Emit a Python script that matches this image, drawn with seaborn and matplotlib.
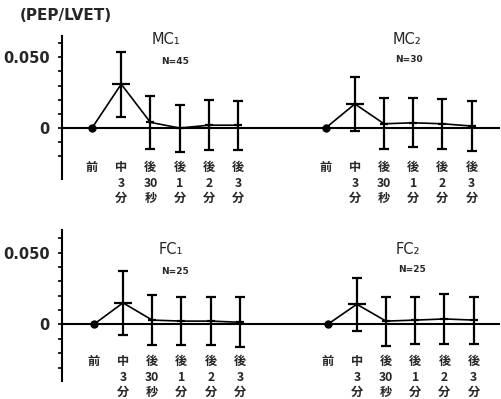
import matplotlib
matplotlib.use("Agg")
import matplotlib.pyplot as plt
import seaborn as sns
import pandas as pd
import numpy as np
from matplotlib.ticker import FixedLocator

sns.set_style("white")
plt.rcParams['font.family'] = ['DejaVu Sans']

# ---- data ----
time_labels = ["前", "中\n3\n分", "後\n30\n秒", "後\n1\n分", "後\n2\n分", "後\n3\n分"]
mc1_mean = [0.0, 0.031, 0.004, 0.0, 0.002, 0.002]
mc1_sd = [0.0, 0.023, 0.0186, 0.0166, 0.0176, 0.0174]
mc2_mean = [0.0, 0.017, 0.003, 0.0037, 0.003, 0.0014]
mc2_sd = [0.0, 0.0192, 0.018, 0.0172, 0.0177, 0.0178]
fc1_mean = [0.0, 0.015, 0.003, 0.0023, 0.0023, 0.0015]
fc1_sd = [0.0, 0.0221, 0.0176, 0.0167, 0.0167, 0.0175]
fc2_mean = [0.0, 0.014, 0.0023, 0.003, 0.0038, 0.003]
fc2_sd = [0.0, 0.0184, 0.0171, 0.0164, 0.0172, 0.0164]
group_titles = ["MC₁", "MC₂", "FC₁", "FC₂"]
group_n = ["N=45", "N=30", "N=25", "N=25"]
y_unit = "(PEP/LVET)"

left_pos = np.arange(6)
right_pos = np.arange(6) + 8

fig = plt.figure(figsize=(5.02, 3.99), dpi=100)
ax_top = fig.add_axes([62.5 / 502, (399 - 179) / 399, 437.5 / 502, 143 / 399])
ax_bot = fig.add_axes([62.5 / 502, (399 - 380.5) / 399, 437.5 / 502, 151 / 399])

cjk = ['Noto Sans CJK JP', 'DejaVu Sans']


def draw_group(ax, pos, mean, sd):
    df = pd.DataFrame({"x": pos, "y": mean})
    sns.lineplot(data=df, x="x", y="y", ax=ax, color="black", lw=1.2,
                 legend=False, zorder=3)
    ax.errorbar(pos[1:], mean[1:], yerr=sd[1:], fmt='none', ecolor='black',
                elinewidth=1.6, capsize=3.6, capthick=1.6, zorder=4)
    ax.plot(pos[1:2], mean[1:2], marker='_', ms=13, mew=1.6, color='black',
            ls='none', zorder=5)
    ax.plot(pos[2:], mean[2:], marker='_', ms=6, mew=1.6, color='black',
            ls='none', zorder=5)
    ax.plot(pos[:1], mean[:1], marker='o', ms=5, color='black', ls='none',
            zorder=5)


def style_axis(ax, ylim, xlim, minor_ticks, label_y):
    ax.set_xlim(*xlim)
    ax.set_ylim(*ylim)
    for s in ["top", "right", "bottom"]:
        ax.spines[s].set_visible(False)
    ax.spines["left"].set_linewidth(1.5)
    ax.spines["left"].set_color("black")
    ax.axhline(0, color='black', lw=1.5, zorder=2)
    ax.set_xticks([])
    ax.set_xlabel("")
    ax.set_ylabel("")
    ax.yaxis.set_major_locator(FixedLocator([0.0, 0.05]))
    ax.yaxis.set_minor_locator(FixedLocator(minor_ticks))
    ax.set_yticklabels(["0", "0.050"])
    ax.tick_params(axis='y', which='both', direction='out', length=3,
                   width=1.2, color='black', left=True, pad=6)
    for t in ax.get_yticklabels():
        t.set_fontsize(10.5)
        t.set_fontweight('bold')
    for i, p in enumerate(list(left_pos) + list(right_pos)):
        ax.text(p, label_y, time_labels[i % 6],
                ha='center', va='top', fontsize=8.8, fontweight='bold',
                family=cjk, linespacing=1.25, multialignment='center')


draw_group(ax_top, left_pos, mc1_mean, mc1_sd)
draw_group(ax_top, right_pos, mc2_mean, mc2_sd)
draw_group(ax_bot, left_pos, fc1_mean, fc1_sd)
draw_group(ax_bot, right_pos, fc2_mean, fc2_sd)

style_axis(ax_top, (-0.036, 0.065), (-1.01, 13.97),
           [-0.02, -0.01, 0.01, 0.02, 0.03, 0.04, 0.06], -0.0235)
style_axis(ax_bot, (-0.039, 0.066), (-1.07, 13.9),
           [-0.03, -0.02, -0.01, 0.01, 0.02, 0.03, 0.04, 0.06], -0.0215)

# titles and N labels (figure pixel coords)
def ftext(x, y, s, **kw):
    fig.text(x / 502, 1 - y / 399, s, ha='center', va='center', **kw)

ftext(66, 15, y_unit, fontsize=11, fontweight='bold')
ftext(166, 40, group_titles[0], fontsize=10.5)
ftext(175, 61, group_n[0], fontsize=6.5, fontweight='bold')
ftext(407, 39, group_titles[1], fontsize=10.5)
ftext(409, 60, group_n[1], fontsize=6.5, fontweight='bold')
ftext(171, 249, group_titles[2], fontsize=10.5)
ftext(175, 271, group_n[2], fontsize=6.5, fontweight='bold')
ftext(408, 249, group_titles[3], fontsize=10.5)
ftext(412, 269, group_n[3], fontsize=6.5, fontweight='bold')

fig.savefig("out.png", dpi=100)
